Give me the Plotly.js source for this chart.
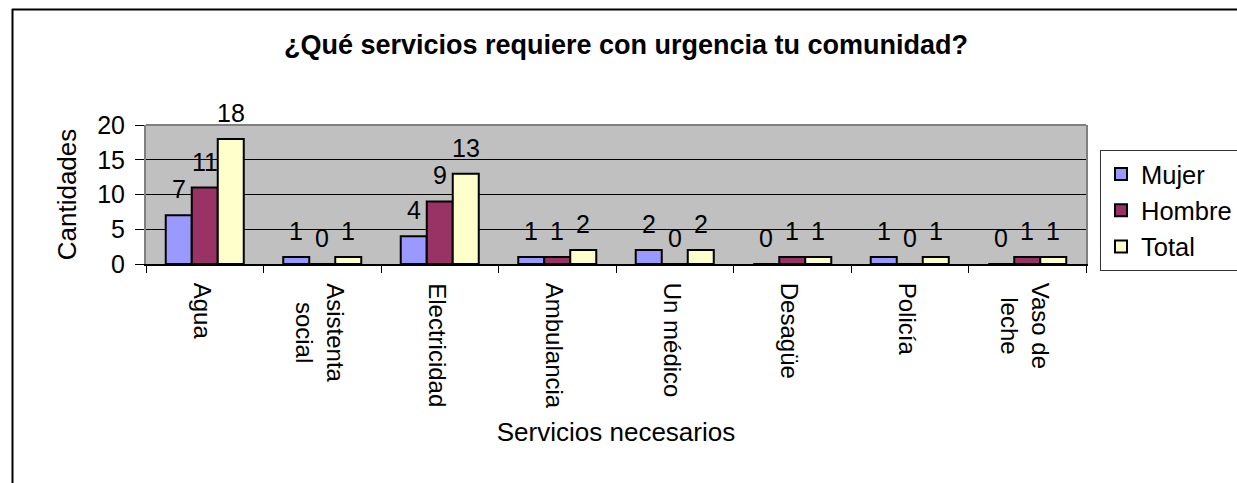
<!DOCTYPE html>
<html>
<head>
<meta charset="utf-8">
<script src="https://cdn.plot.ly/plotly-3.0.1.min.js"></script>
<style>
  html, body { margin: 0; padding: 0; background: #fff; overflow: hidden; }
  #chart { width: 1237px; height: 483px; }
</style>
</head>
<body>
<div id="chart"></div>
<script>
// ---- data ----
const categories = ["Agua", "Asistenta<br>social", "Electricidad", "Ambulancia", "Un médico", "Desagüe", "Policía", "Vaso de<br>leche"];
const mujer  = [7, 1, 4, 1, 2, 0, 1, 0];
const hombre = [11, 0, 9, 1, 0, 1, 0, 1];
const total  = [18, 1, 13, 2, 2, 1, 1, 1];
const seriesNames = ["Mujer", "Hombre", "Total"];
const yTicks = [0, 5, 10, 15, 20];

// ---- style / layout constants ----
const FONT = "Liberation Sans, Arial, sans-serif";
const colors = ["#9999FF", "#993366", "#FFFFCC"];
const W = 1237, H = 483;
const plotL = 146, plotR = 1086, plotT = 125, plotB = 264;
const bargap = 0.336;
const plotW = plotR - plotL, plotH = plotB - plotT;
const catPx = plotW / categories.length;
const barPx = catPx * (1 - bargap) / 3;

const seriesValues = [mujer, hombre, total];

const traces = seriesValues.map((vals, k) => ({
  type: "bar",
  name: seriesNames[k],
  x: categories,
  y: vals,
  marker: { color: colors[k], line: { color: "#000", width: 2 } },
  hoverinfo: "skip"
}));

const annotations = [];
// data labels, derived from the data arrays
seriesValues.forEach((vals, k) => {
  vals.forEach((v, i) => {
    annotations.push({
      x: categories[i], y: v, xref: "x", yref: "y",
      text: String(v), showarrow: false,
      xanchor: "center", yanchor: "bottom",
      xshift: (k - 1) * barPx, yshift: 10,
      font: { family: FONT, size: 25, color: "#000" }
    });
  });
});
// category labels (rotated, lines centred like the original)
categories.forEach((c) => {
  annotations.push({
    x: c, y: 0, xref: "x", yref: "y",
    text: c, showarrow: false, textangle: 90, align: "center",
    xanchor: "center", yanchor: "top",
    xshift: -2, yshift: -17,
    font: { family: FONT, size: 24, color: "#000" }
  });
});

// outer frame (top & left visible, extends beyond the window)
const px2x = p => (p - plotL) / plotW;
const py2y = p => (plotB - p) / plotH;
const shapes = [
  { type: "line", xref: "paper", yref: "paper", x0: 0, x1: 1, y0: 1, y1: 1,
    line: { color: "#808080", width: 2 } },
  { type: "line", xref: "paper", yref: "paper", x0: px2x(12), x1: px2x(W + 50), y0: py2y(9.5), y1: py2y(9.5),
    line: { color: "#000", width: 2 } },
  { type: "line", xref: "paper", yref: "paper", x0: px2x(12.5), x1: px2x(12.5), y0: py2y(9), y1: py2y(H + 50),
    line: { color: "#000", width: 2 } }
];

const layout = {
  width: W, height: H,
  margin: { l: plotL, r: W - plotR, t: plotT, b: H - plotB, pad: 0, autoexpand: false },
  paper_bgcolor: "#fff",
  plot_bgcolor: "#C0C0C0",
  font: { family: FONT, size: 24, color: "#000" },
  title: {
    text: "<b>¿Qué servicios requiere con urgencia tu comunidad?</b>",
    font: { family: FONT, size: 27, color: "#000" },
    xref: "container", yref: "container",
    x: 626 / W, y: 1 - 45 / H, xanchor: "center", yanchor: "middle"
  },
  barmode: "group",
  bargap: bargap,
  bargroupgap: 0,
  showlegend: true,
  legend: {
    x: px2x(1100), y: py2y(150), xanchor: "left", yanchor: "top",
    bgcolor: "#fff", bordercolor: "#333", borderwidth: 1,
    font: { family: FONT, size: 25.5, color: "#000" },
    itemwidth: 30, tracegroupgap: 0
  },
  xaxis: {
    type: "category",
    tickson: "boundaries",
    ticks: "outside", ticklen: 7, tickcolor: "#000", tickwidth: 1,
    showline: true, linecolor: "#000", linewidth: 1.5,
    showgrid: false, zeroline: false,
    showticklabels: false,
    title: { text: "Servicios necesarios", font: { family: FONT, size: 26, color: "#000" }, standoff: 158 },
    automargin: false, fixedrange: true
  },
  yaxis: {
    range: [0, 20],
    tickvals: yTicks, ticktext: yTicks.map(String),
    ticks: "outside", ticklen: 9, tickcolor: "#000", tickwidth: 1,
    ticklabelstandoff: 5,
    showline: true, linecolor: "#808080", linewidth: 2, mirror: true,
    showgrid: true, gridcolor: "#000", gridwidth: 1,
    zeroline: false,
    tickfont: { family: FONT, size: 25, color: "#000" },
    title: { text: "Cantidades", font: { family: FONT, size: 26, color: "#000" }, standoff: 13 },
    automargin: false, fixedrange: true
  },
  annotations: annotations,
  shapes: shapes
};

Plotly.newPlot("chart", traces, layout, { staticPlot: true, displayModeBar: false });
</script>
</body>
</html>
